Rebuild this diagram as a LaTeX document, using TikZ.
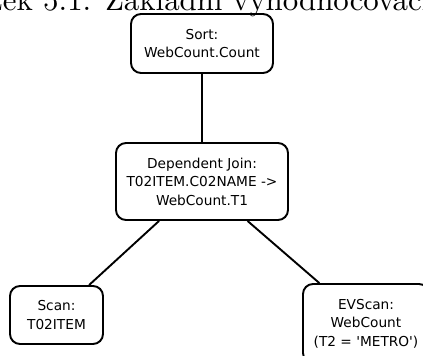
\documentclass[tikz,border=0pt]{standalone}
\usepackage{fontspec}
\setmainfont{Latin Modern Roman}
\newfontfamily\capfont{lmroman10-regular.otf}
\newfontfamily\boxfont{DejaVu Sans}
\begin{document}
\begin{tikzpicture}[x=1pt,y=-1pt,
  opbox/.style={draw, line width=1.9pt, rounded corners=10pt, inner sep=0pt,
    align=center, font=\boxfont\fontsize{13.7}{18.5}\selectfont},
  link/.style={line width=1.9pt}]
\useasboundingbox (0,0) rectangle (423,356);
\begin{scope}
\clip (0,0) rectangle (423,356);
\node[anchor=base west, inner sep=0pt, font=\capfont\fontsize{30.9}{36}\selectfont] (cap) at (-11,10) {zek 5.1: Základní vyhodnocovací};
\node[opbox, minimum width=142pt, minimum height=59pt] (sort) at (202,43.5) {Sort:\\WebCount.Count};
\node[opbox, minimum width=172pt, minimum height=77pt] (join) at (202,181.5) {Dependent Join:\\T02ITEM.C02NAME ->\\WebCount.T1};
\node[opbox, minimum width=93pt, minimum height=58pt] (scan) at (56.5,315) {Scan:\\T02ITEM};
\node[opbox, minimum width=126pt, minimum height=79pt] (ev) at (366,323.5) {EVScan:\\WebCount\\(T2 = 'METRO')};
\draw[link] (sort) -- (join);
\draw[link] (join) -- (scan);
\draw[link] (join) -- (ev);
\end{scope}
\end{tikzpicture}
\end{document}
